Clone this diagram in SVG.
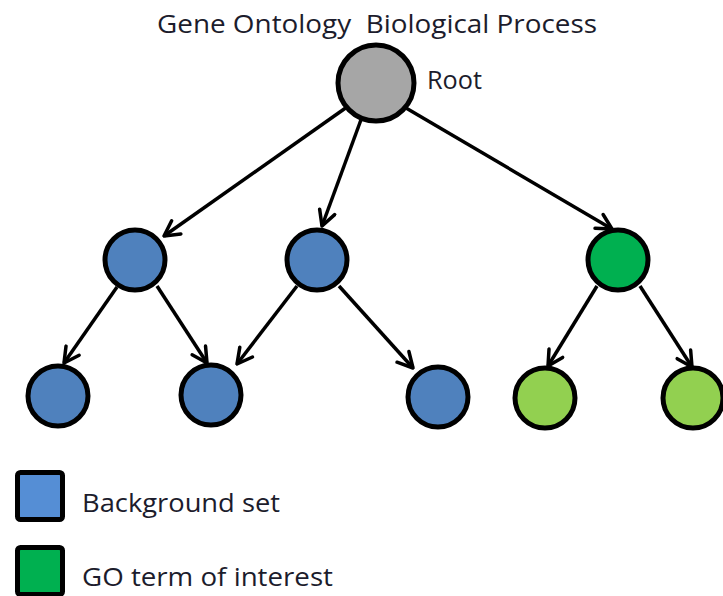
<svg xmlns="http://www.w3.org/2000/svg" width="723" height="596" viewBox="0 0 723 596">
<style>
.t{font-family:"Open Sans","Liberation Sans",sans-serif;font-size:25px;fill:#1c1c2c}
.n{stroke:#000;stroke-width:5}
.e{stroke:#000;stroke-width:3.5;fill:none;marker-end:url(#ah)}
</style>
<defs>
<marker id="ah" markerUnits="userSpaceOnUse" viewBox="0 0 20 20" refX="18" refY="10" markerWidth="20" markerHeight="20" orient="auto">
<path d="M3,2 L18,10 L3,18" fill="none" stroke="#000" stroke-width="3.5" stroke-linecap="round" stroke-linejoin="round"/>
</marker>
</defs>
<rect width="723" height="596" fill="#fff"/>
<text class="t" x="157" y="33" xml:space="preserve" textLength="440" lengthAdjust="spacingAndGlyphs">Gene Ontology  Biological Process</text>
<g id="connectors">
<line class="e" x1="347" y1="107" x2="164" y2="236"/>
<line class="e" x1="362" y1="117" x2="322" y2="226"/>
<line class="e" x1="406" y1="108" x2="612" y2="229"/>
<line class="e" x1="117" y1="287" x2="64" y2="363"/>
<line class="e" x1="157" y1="286" x2="207" y2="363"/>
<line class="e" x1="297" y1="286" x2="237" y2="364"/>
<line class="e" x1="339" y1="286" x2="413" y2="368"/>
<line class="e" x1="597" y1="286" x2="548" y2="366"/>
<line class="e" x1="640" y1="286" x2="692" y2="367"/>
</g>
<g id="root"><circle class="n" cx="376" cy="83" r="38" fill="#a6a6a6"/><text class="t" x="427" y="89" textLength="55" lengthAdjust="spacingAndGlyphs">Root</text></g>
<g id="b1"><circle class="n" cx="135" cy="260" r="30" fill="#4f81bd"/></g>
<g id="b2"><circle class="n" cx="317" cy="260" r="30" fill="#4f81bd"/></g>
<g id="g1"><circle class="n" cx="618" cy="260" r="30" fill="#00b050"/></g>
<g id="b3"><circle class="n" cx="58" cy="396" r="30" fill="#4f81bd"/></g>
<g id="b4"><circle class="n" cx="211" cy="395" r="30" fill="#4f81bd"/></g>
<g id="b5"><circle class="n" cx="438" cy="397" r="30" fill="#4f81bd"/></g>
<g id="lg1"><circle class="n" cx="545" cy="398" r="30" fill="#92d050"/></g>
<g id="lg2"><circle class="n" cx="693" cy="398" r="30" fill="#92d050"/></g>
<g id="legend-bg"><rect x="17.5" y="472.5" width="45" height="47" rx="3" fill="#558ed5" stroke="#000" stroke-width="5"/><text class="t" x="82" y="512" textLength="198" lengthAdjust="spacingAndGlyphs">Background set</text></g>
<g id="legend-go"><rect x="17.5" y="547.5" width="45" height="47" rx="3" fill="#00b050" stroke="#000" stroke-width="5"/><text class="t" x="82" y="586" textLength="251" lengthAdjust="spacingAndGlyphs">GO term of interest</text></g>
</svg>
